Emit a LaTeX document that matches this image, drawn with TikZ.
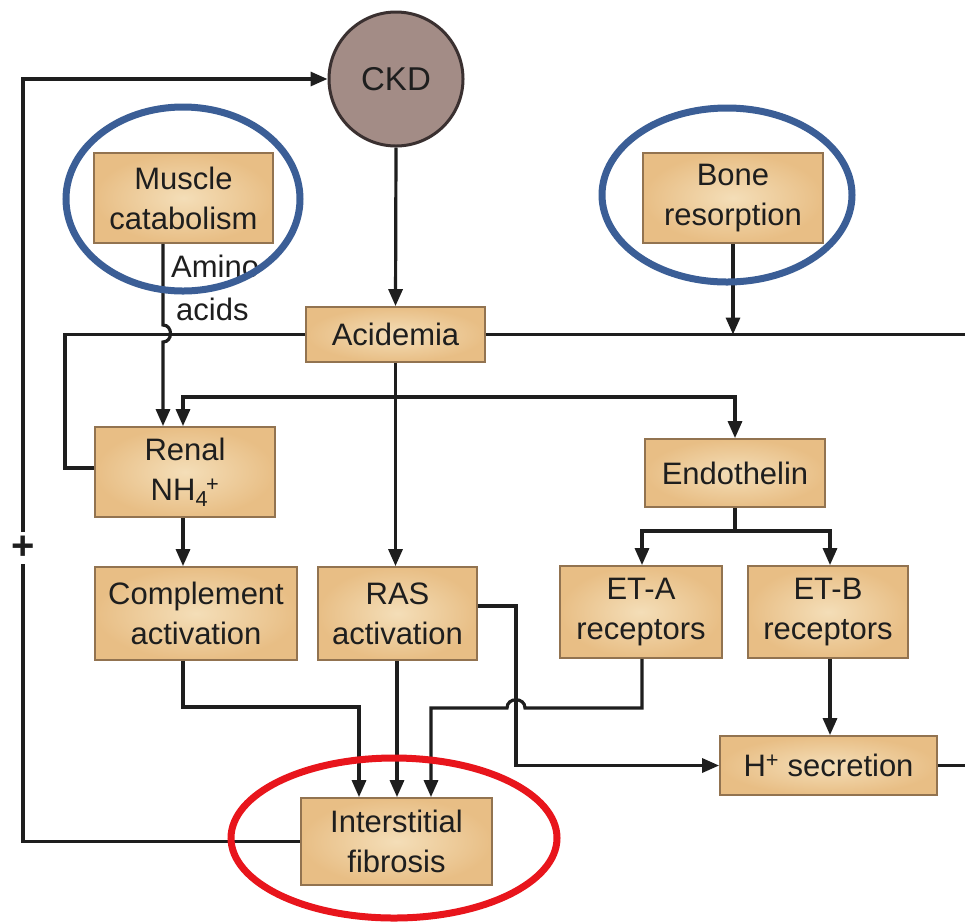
\documentclass[tikz,border=0pt]{standalone}
\usepackage{fontspec}
\setmainfont{Liberation Sans}
\usetikzlibrary{arrows.meta,calc}
\definecolor{boxfill}{HTML}{E8BE85}
\definecolor{boxinner}{HTML}{F4DEB8}
\definecolor{boxline}{HTML}{927350}
\definecolor{ckdfill}{HTML}{A38C86}
\definecolor{ckdline}{HTML}{3A3030}
\definecolor{ringblue}{HTML}{3B5E96}
\definecolor{ringred}{HTML}{E8151C}
\definecolor{ink}{HTML}{1E1E1E}
\begin{document}
\begin{tikzpicture}[x=1pt,y=-1pt,
  box/.style={draw=boxline,line width=1.8pt,inner color=boxinner,outer color=boxfill,
    rectangle,align=center,text=ink,inner sep=0pt,
    font=\fontsize{31}{40}\selectfont},
  conn/.style={draw=ink,line width=3.2pt},
  arr/.style={conn,-{Triangle[length=17pt,width=14pt]}},
  ring/.style={line width=7pt}]
\useasboundingbox[fill=white] (0,0) rectangle (965,922);

% nodes
\node[circle,draw=ckdline,line width=3pt,fill=ckdfill,minimum size=134pt,inner sep=0pt,
  text=ink,font=\fontsize{33}{40}\selectfont] (ckd) at (396,79) {CKD};
\node[box,minimum width=179pt,minimum height=90pt] (muscle) at (183.5,198) {Muscle\\catabolism};
\node[box,minimum width=180pt,minimum height=90pt] (bone) at (733,198) {Bone\\resorption};
\node[box,minimum width=179pt,minimum height=55pt] (acid) at (395.5,334.5) {Acidemia};
\node[box,minimum width=180pt,minimum height=90pt] (renal) at (185,472) {Renal\\NH\textsubscript{4}\kern-2pt\textsuperscript{+}};
\node[box,minimum width=202pt,minimum height=93pt] (compl) at (196,613.5) {Complement\\activation};
\node[box,minimum width=159pt,minimum height=93pt] (ras) at (397.5,613.5) {RAS\\activation};
\node[box,minimum width=180pt,minimum height=68pt] (endo) at (735,473) {Endothelin};
\node[box,minimum width=162pt,minimum height=92pt] (eta) at (641,612) {ET-A\\receptors};
\node[box,minimum width=160pt,minimum height=92pt] (etb) at (828,612) {ET-B\\receptors};
\node[box,minimum width=217pt,minimum height=59pt] (hsec) at (828.5,765.5) {H\textsuperscript{+} secretion};
\node[box,minimum width=191pt,minimum height=87pt] (fib) at (396.5,841.5) {Interstitial\\fibrosis};

\node[anchor=base west,inner sep=0pt,text=ink,font=\fontsize{31}{40}\selectfont] (amino1) at (171,277) {Amino};
\node[anchor=base west,inner sep=0pt,text=ink,font=\fontsize{31}{40}\selectfont] (amino2) at (176,320) {acids};
\node[inner sep=0pt,text=ink,font=\fontsize{40}{40}\selectfont\bfseries] (plus) at (23,548) {+};

% helper coordinates
\coordinate (xL) at (23,0);
\coordinate (xA) at (163,0);
\coordinate (xR) at (183,0);
\coordinate (xW) at (65,0);
\coordinate (xS) at (397,0);
\coordinate (xE) at (735,0);
\coordinate (xF1) at (359,0);
\coordinate (xF3) at (431,0);
\coordinate (xJ) at (516,0);
\coordinate (xEA) at (642,0);
\coordinate (xEB) at (830,0);
\coordinate (xEdge) at (965,0);
\coordinate (yBr) at (0,397);
\coordinate (yEn) at (0,531);
\coordinate (yLow) at (0,707);
\coordinate (yRas) at (0,606);
\coordinate (yRen) at (0,468);

% feedback loop from fibrosis to CKD
\draw[conn] (fib.west) -- (fib.west -| xL) -- (23,564);
\draw[arr] (23,532) |- (ckd.west);

% CKD -> acidemia
\draw[arr] (ckd.south) -- (acid.north);
% bone -> acidemia line
\draw[arr] (bone.south) -- (bone.south |- acid.east);
% acidemia line to the right edge
\draw[conn] (acid.east) -- (acid.east -| xEdge);
% acidemia <-> renal (left)
\draw[conn] (acid.west) -- (acid.west -| xW) -- (yRen -| xW) -- (yRen -| renal.west);
% muscle -> renal (amino acids), hopping over acidemia line
\draw[arr] (muscle.south -| xA) -- (163,325) .. controls (173,325) and (173,342) .. (163,342) -- (renal.north -| xA);
% acidemia -> RAS
\draw[arr] (acid.south) -- (acid.south |- ras.north);
% branch to renal and endothelin
\draw[arr] (yBr -| xS) -- (yBr -| xR) -- (renal.north -| xR);
\draw[arr] (yBr -| xS) -- (yBr -| xE) -- (endo.north -| xE);
% renal -> complement
\draw[arr] (renal.south -| xR) -- (compl.north -| xR);
% endothelin -> receptors
\draw[conn] (endo.south) -- (yEn -| endo.south);
\draw[arr] (yEn -| endo.south) -- (yEn -| xEA) -- (eta.north -| xEA);
\draw[arr] (yEn -| endo.south) -- (yEn -| xEB) -- (etb.north -| xEB);
% complement -> fibrosis
\draw[arr] (compl.south -| xR) -- (yLow -| xR) -- (yLow -| xF1) -- (fib.north -| xF1);
% RAS -> fibrosis
\draw[arr] (ras.south -| xS) -- (fib.north -| xS);
% RAS -> H+ secretion
\draw[arr] (yRas -| ras.east) -- (yRas -| xJ) |- (hsec.west);
% ET-A -> fibrosis, hopping over RAS line
\draw[arr] (eta.south -| xEA) -- (642,708) -- (525,708) .. controls (525,697) and (507,697) .. (507,708) -- (431,708) -- (fib.north -| xF3);
% ET-B -> H+ secretion
\draw[arr] (etb.south -| xEB) -- (hsec.north -| xEB);
% H+ secretion to the right edge
\draw[conn] (hsec.east) -- (hsec.east -| xEdge);

% highlight rings
\draw[ring,ringblue] (183,199) ellipse [x radius=117, y radius=92];
\draw[ring,ringblue] (727,195) ellipse [x radius=125, y radius=87];
\draw[ring,ringred] (394,838) ellipse [x radius=163, y radius=80];
\end{tikzpicture}
\end{document}
